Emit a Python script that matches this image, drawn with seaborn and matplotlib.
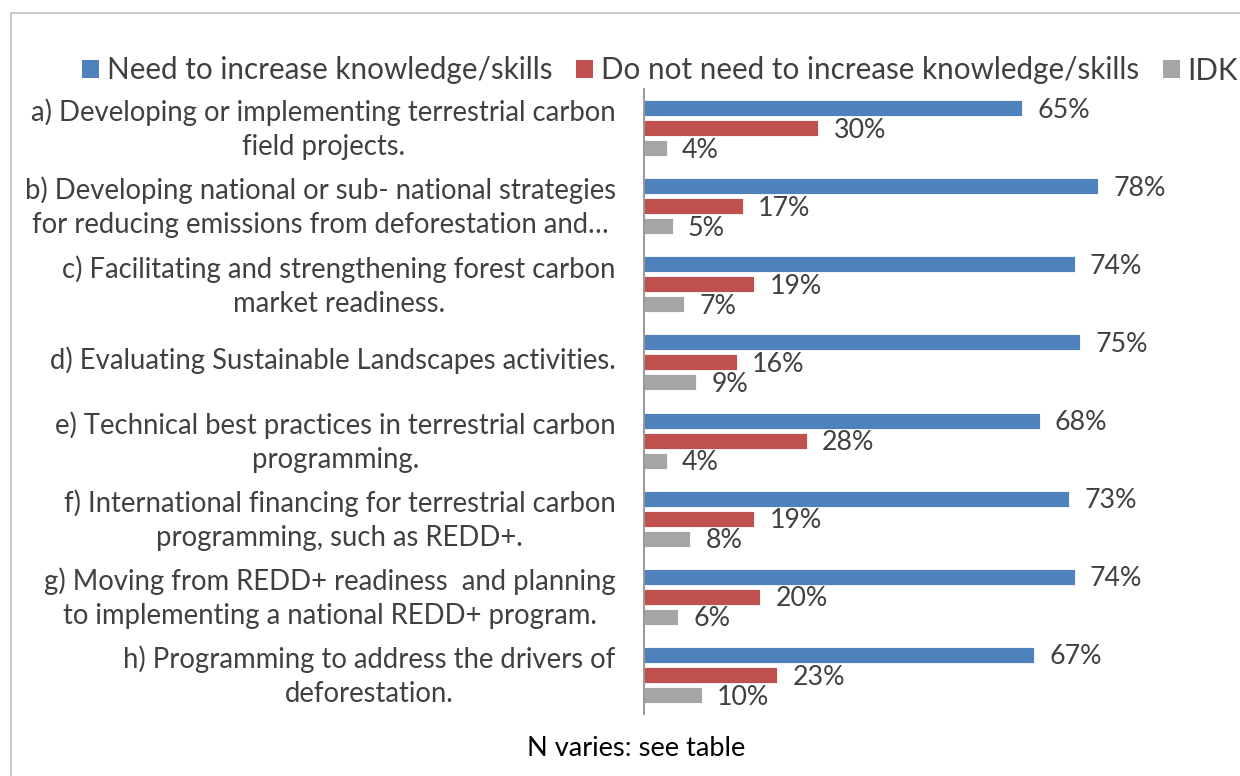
import matplotlib
matplotlib.use("Agg")
import matplotlib.pyplot as plt
from matplotlib.patches import Patch, Rectangle
from matplotlib.transforms import ScaledTranslation
import seaborn as sns
import pandas as pd

categories = [
    "a) Developing or implementing terrestrial carbon\nfield projects.",
    "b) Developing national or sub- national strategies\nfor reducing emissions from deforestation and…",
    "c) Facilitating and strengthening forest carbon\nmarket readiness.",
    "d) Evaluating Sustainable Landscapes activities.",
    "e) Technical best practices in terrestrial carbon\nprogramming.",
    "f) International financing for terrestrial carbon\nprogramming, such as REDD+.",
    "g) Moving from REDD+ readiness  and planning\nto implementing a national REDD+ program.",
    "h) Programming to address the drivers of\ndeforestation.",
]
series_names = [
    "Need to increase knowledge/skills",
    "Do not need to increase knowledge/skills",
    "IDK",
]
need_values = [65, 78, 74, 75, 68, 73, 74, 67]
not_need_values = [30, 17, 19, 16, 28, 19, 20, 23]
idk_values = [4, 5, 7, 9, 4, 8, 6, 10]
footnote = "N varies: see table"

colors = ["#4F81BD", "#C0504D", "#A5A5A5"]
text_color = "#404040"

sns.set_theme(style="white")
plt.rcParams["font.family"] = ["Lato", "DejaVu Sans"]

rows = []
for name, vals in zip(series_names, [need_values, not_need_values, idk_values]):
    for cat, v in zip(categories, vals):
        rows.append({"category": cat, "series": name, "value": v})
df = pd.DataFrame(rows)

W, H = 1240, 776
fig = plt.figure(figsize=(W / 100, H / 100), dpi=100)
ax = fig.add_axes([643.5 / W, 1 - 714 / H, (1226 - 643.5) / W, (714 - 89) / H])

sns.barplot(data=df, x="value", y="category", hue="series", orient="h",
            order=categories, hue_order=series_names, palette=colors,
            width=0.77, legend=False, ax=ax, saturation=1)

# thinner bars inside each slot
bar_h = 0.205
for p in ax.patches:
    cy = p.get_y() + p.get_height() / 2
    p.set_height(bar_h)
    p.set_y(cy - bar_h / 2)
    p.set_edgecolor("white")
    p.set_linewidth(0.6)

for cont, vals in zip(ax.containers, [need_values, not_need_values, idk_values]):
    labels = ax.bar_label(cont, labels=[f"{v}%" for v in vals], padding=11,
                          fontsize=19.3, color=text_color)
    for t in labels:
        t.set_y(-1.5)

ax.set_xlim(0, 100)
ax.set_ylim(len(categories) - 0.5, -0.5)
ax.set_xlabel("")
ax.set_ylabel("")
ax.set_xticks([])
for s in ["top", "right", "bottom"]:
    ax.spines[s].set_visible(False)
ax.spines["left"].set_color("#868686")
ax.spines["left"].set_linewidth(1.2)
ax.tick_params(axis="y", length=0, pad=20, labelsize=19.8, labelcolor=text_color)
lift = ScaledTranslation(0, 5 / 100, fig.dpi_scale_trans)
for t in ax.get_yticklabels():
    t.set_multialignment("center")
    t.set_linespacing(1.38)
    t.set_transform(t.get_transform() + lift)

handles = [Patch(facecolor=c, edgecolor="none") for c in colors]
fig.legend(handles, series_names, loc="center", bbox_to_anchor=(660 / W, 1 - 70.5 / H),
           ncol=3, frameon=False, fontsize=21.3, labelcolor=text_color,
           handlelength=0.57, handleheight=0.57, handletextpad=0.27,
           columnspacing=0.8)

fig.text(636 / W, 1 - 749 / H, footnote, ha="center", va="center",
         fontsize=19.6, color="black")

fig.patches.append(Rectangle((11 / W, -0.1), 1.2, 1.1 - 13 / H,
                             transform=fig.transFigure, fill=False,
                             edgecolor="#BFBFBF", linewidth=1.2))

fig.savefig("out.png", dpi=100)
